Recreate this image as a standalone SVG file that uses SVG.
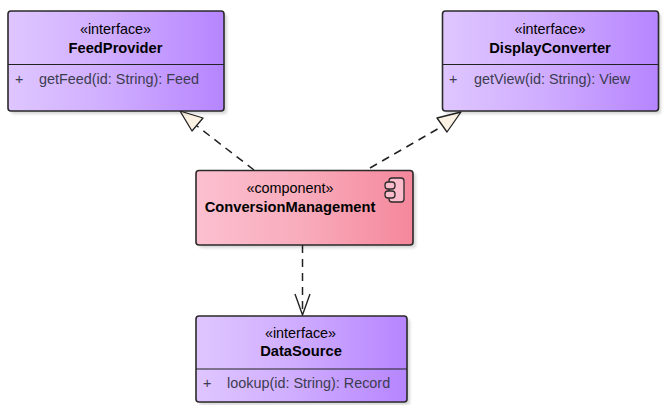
<svg xmlns="http://www.w3.org/2000/svg" width="665" height="405" viewBox="0 0 665 405">
<style>
text{font-family:"Liberation Sans",Arial,sans-serif;font-size:14.400px;text-anchor:middle;fill:#000}
.n{font-weight:bold;font-size:14.700px}
.m{fill:#3c3c50;text-anchor:start}
.box{stroke:#2a2a2a;stroke-width:1.6}
.if{fill:url(#p)}
.cp{fill:url(#r)}
.sh{fill:#000;opacity:.16;filter:url(#b)}
.sep{stroke:#222;stroke-width:1.2}
.c{fill:none;stroke:#222;stroke-width:1.5;stroke-dasharray:8 6}
.tri{fill:#fcf2e3;stroke:#222;stroke-width:1.3;stroke-linejoin:round}
.op{fill:none;stroke:#222;stroke-width:1.4}
.ic{fill:#fcbccb;stroke:#2a2a2a;stroke-width:1.3}
</style>
<defs>
<linearGradient id="p"><stop offset="0" stop-color="#dfc6ff"/><stop offset=".45" stop-color="#d0aeff"/><stop offset="1" stop-color="#b685ff"/></linearGradient>
<linearGradient id="r"><stop offset="0" stop-color="#fcc0d0"/><stop offset=".5" stop-color="#f8abbb"/><stop offset="1" stop-color="#f5879b"/></linearGradient>
<filter id="b" x="-10%" y="-10%" width="120%" height="120%"><feGaussianBlur stdDeviation="1.5"/></filter>
</defs>
<rect width="665" height="405" fill="#fff"/>
<g id="connectors">
<path class="c" d="M254 170L197 126"/>
<path class="tri" d="M180 111L192 131L203 118Z"/>
<path class="c" d="M370 168L441 127"/>
<path class="tri" d="M461 112L437 118L447 132Z"/>
<path class="c" d="M302.500 245V314"/>
<path class="op" d="M295 294L302.500 315L310 294"/>
</g>
<g id="FeedProvider">
<rect class="sh" x="11" y="14" width="216" height="100" rx="3"/>
<rect class="box if" x="8" y="11" width="216" height="100" rx="3"/>
<path class="sep" d="M8 64.500H224"/>
<text x="115.500" y="34">«interface»</text>
<text class="n" x="115.500" y="53">FeedProvider</text>
<text class="m" x="15" y="84">+</text>
<text class="m" x="39" y="84">getFeed(id: String): Feed</text>
</g>
<g id="DisplayConverter">
<rect class="sh" x="445" y="14" width="216" height="100" rx="3"/>
<rect class="box if" x="442.500" y="11" width="216" height="100" rx="3"/>
<path class="sep" d="M442.500 64.500H658.500"/>
<text x="550" y="34">«interface»</text>
<text class="n" x="550" y="53">DisplayConverter</text>
<text class="m" x="449" y="84">+</text>
<text class="m" x="474" y="84">getView(id: String): View</text>
</g>
<g id="ConversionManagement">
<rect class="sh" x="199" y="173" width="217" height="75" rx="3"/>
<rect class="box cp" x="196" y="170.500" width="217" height="74.500" rx="3"/>
<text x="290" y="193">«component»</text>
<text class="n" x="290" y="212">ConversionManagement</text>
<rect class="ic" x="389" y="178" width="15" height="24" rx="3"/>
<rect class="ic" x="385" y="182" width="10" height="7" rx="3"/>
<rect class="ic" x="385" y="191" width="10" height="7" rx="3"/>
</g>
<g id="DataSource">
<rect class="sh" x="199" y="319" width="211" height="86" rx="3"/>
<rect class="box if" x="196" y="316" width="211" height="86" rx="3"/>
<path class="sep" d="M196 369H407"/>
<text x="300.500" y="338">«interface»</text>
<text class="n" x="301" y="356">DataSource</text>
<text class="m" x="203" y="388">+</text>
<text class="m" x="227" y="388">lookup(id: String): Record</text>
</g>
</svg>
